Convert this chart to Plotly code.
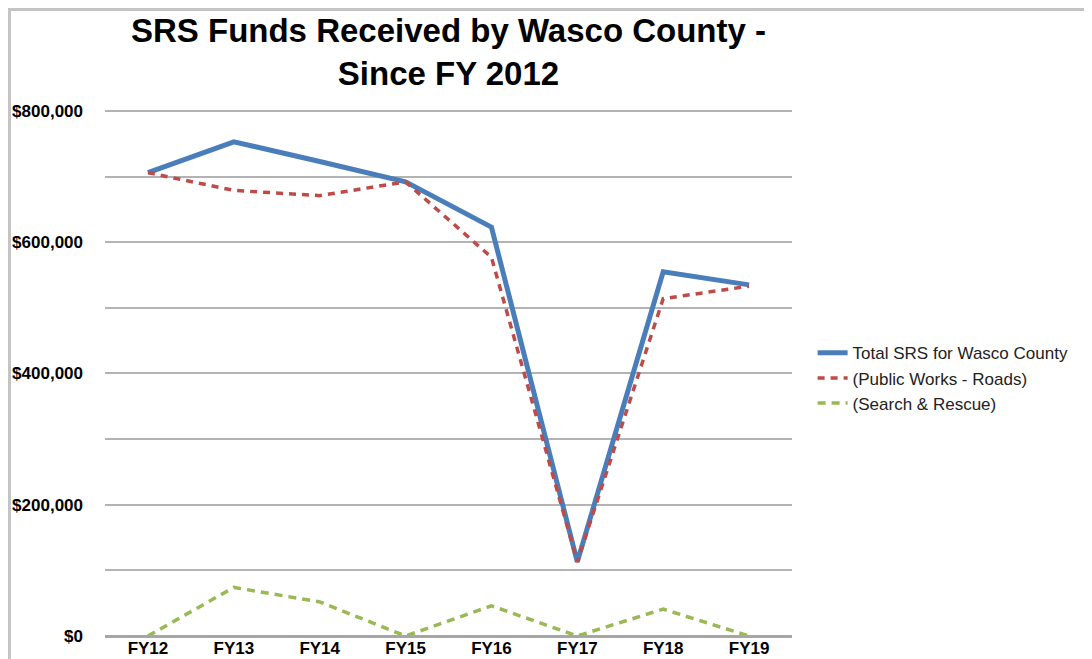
import plotly.graph_objs as go

years = ["FY12", "FY13", "FY14", "FY15", "FY16", "FY17", "FY18", "FY19"]
total_srs = [706000, 753000, 723000, 692000, 623000, 113000, 555000, 535000]
public_works = [706000, 679000, 671000, 692000, 577000, 113000, 514000, 533000]
search_rescue = [0, 74000, 52000, 0, 46000, 0, 41000, 0]
ytick_vals = [0, 200000, 400000, 600000, 800000]
ytick_text = ["$0", "$200,000", "$400,000", "$600,000", "$800,000"]

fig = go.Figure()
fig.add_trace(go.Scatter(name="Total SRS for Wasco County", x=years, y=total_srs, mode="lines",
                         line=dict(color="#4a7ebb", width=5)))
fig.add_trace(go.Scatter(name="(Public Works - Roads)", x=years, y=public_works, mode="lines",
                         line=dict(color="#be4b48", width=3.5, dash="7px,6px")))
fig.add_trace(go.Scatter(name="(Search & Rescue)", x=years, y=search_rescue, mode="lines",
                         line=dict(color="#98b954", width=3.5, dash="8px,6px")))

grid = "#b3b3b3"
# page body adds an 8px offset, margins compensate for it
fig.update_layout(
    width=1092, height=659,
    margin=dict(l=97, r=308, t=101, b=31, autoexpand=False),
    paper_bgcolor="white", plot_bgcolor="white",
    font=dict(family="Liberation Sans, Arial, sans-serif", color="black"),
    title=dict(text="<b>SRS Funds Received by Wasco County -<br>Since FY 2012</b>",
               x=0.5, xref="paper", xanchor="center", y=1 - 34 / 659, yref="container", yanchor="middle",
               font=dict(size=33, color="black")),
    legend=dict(x=1.03, xanchor="left", y=0.489, yanchor="middle", font=dict(size=17, color="#222222"),
                tracegroupgap=0, itemwidth=30),
    xaxis=dict(showgrid=False, showline=False, ticks="", range=[-0.5, 7.5], automargin=False,
               tickfont=dict(size=17, weight="bold")),
    yaxis=dict(range=[0, 803000], tickvals=ytick_vals, ticktext=ytick_text, automargin=False,
               showgrid=True, gridcolor=grid, gridwidth=2,
               zeroline=True, zerolinecolor="#a6a6a6", zerolinewidth=2.5,
               showline=False, ticks="", ticklabelstandoff=21,
               tickfont=dict(size=17, weight="bold"),
               minor=dict(dtick=100000, showgrid=True, gridcolor=grid, gridwidth=2)),
    shapes=[
        dict(type="line", xref="paper", yref="paper", x0=-0.15, x1=1.45, y0=1.1888, y1=1.1888,
             line=dict(color="#c4c4c4", width=3)),
        dict(type="line", xref="paper", yref="paper", x0=-0.139, x1=-0.139, y0=-0.1, y1=1.19,
             line=dict(color="#c4c4c4", width=3)),
    ],
)

fig.write_html("out.html")
